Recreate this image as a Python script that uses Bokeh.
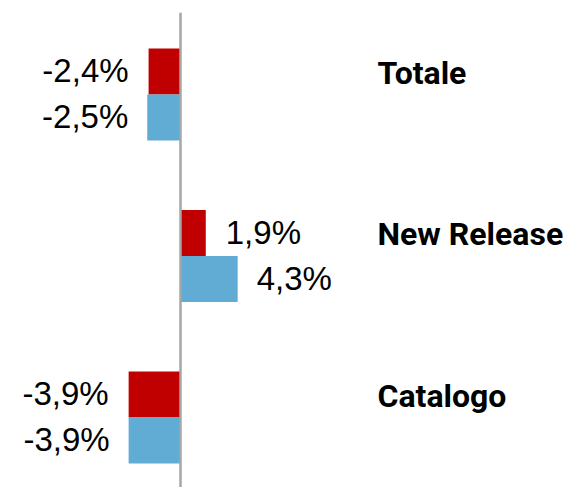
from bokeh.plotting import figure
from bokeh.models import ColumnDataSource, Range1d, Span
from bokeh.core.properties import value
from bokeh.embed import file_html
from bokeh.resources import INLINE

categories = ["Totale", "New Release", "Catalogo"]
red_values = [-2.4, 1.9, -3.9]
blue_values = [-2.5, 4.3, -3.9]

RED = "#C00000"
BLUE = "#60ACD4"
GRAY = "#A6A6A6"

W, H = 563, 487
TOP = 12
PX_PER_PCT = 13.3
ZERO_PX = 180
CAT_PX = 161.5
FIRST_PX = 82
BAR_H = 46 / CAT_PX

frame_h = H - TOP
x0 = -ZERO_PX / PX_PER_PCT
x1 = (W - ZERO_PX) / PX_PER_PCT
y_top = -FIRST_PX / CAT_PX
y_bot = (frame_h - FIRST_PX) / CAT_PX

p = figure(width=W, height=H, output_backend="svg", toolbar_location=None,
           x_range=Range1d(x0, x1), y_range=Range1d(y_bot, y_top),
           min_border_left=0, min_border_right=0, min_border_top=TOP,
           min_border_bottom=0)
p.xaxis.visible = False
p.yaxis.visible = False
p.xgrid.visible = False
p.ygrid.visible = False
p.outline_line_color = None

idx = list(range(len(categories)))

def fmt(v):
    return f"{v:.1f}%".replace(".", ",")

red_src = ColumnDataSource(dict(y=[i - BAR_H / 2 for i in idx], v=red_values))
blue_src = ColumnDataSource(dict(y=[i + BAR_H / 2 for i in idx], v=blue_values))

p.hbar(y="y", left=0, right="v", height=BAR_H, source=red_src,
       fill_color=RED, line_color=None)
p.hbar(y="y", left=0, right="v", height=BAR_H, source=blue_src,
       fill_color=BLUE, line_color=None)

p.add_layout(Span(location=0, dimension="height", line_color=GRAY, line_width=2.5))

for vals, ys, off in ((red_values, red_src.data["y"], 20), (blue_values, blue_src.data["y"], 19)):
    neg = [k for k, v in enumerate(vals) if v < 0]
    pos = [k for k, v in enumerate(vals) if v >= 0]
    for sel, align, xo in ((neg, "right", -off), (pos, "left", off)):
        if not sel:
            continue
        s = ColumnDataSource(dict(x=[vals[k] for k in sel], y=[ys[k] for k in sel],
                                  t=[fmt(vals[k]) for k in sel]))
        p.text(x="x", y="y", text="t", source=s, text_align=align,
               text_baseline="middle", x_offset=xo, y_offset=-1,
               text_font=value("Liberation Sans"), text_font_size="33px",
               text_color="#000000")

label_x = (377 - ZERO_PX) / PX_PER_PCT
cat_src = ColumnDataSource(dict(x=[label_x] * len(categories), y=idx, t=categories))
p.text(x="x", y="y", text="t", source=cat_src, text_align="left",
       text_baseline="middle", y_offset=-22,
       text_font=value("Roboto"), text_font_style="bold", text_font_size="32px",
       text_color="#000000")

open("out.html", "w").write(file_html(p, INLINE))
